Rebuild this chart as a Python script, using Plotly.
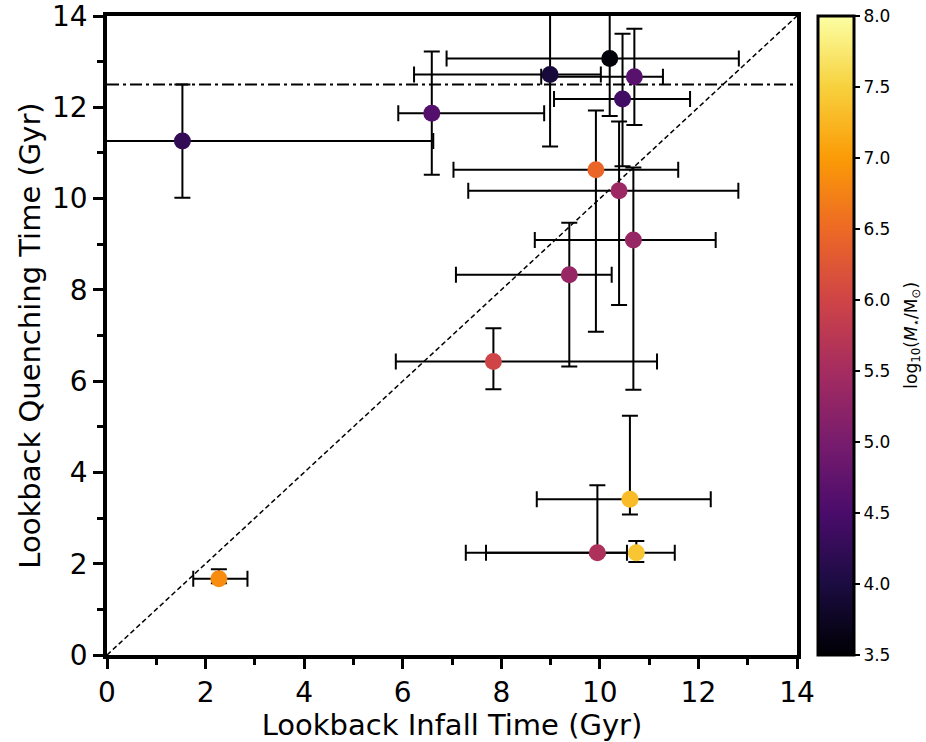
import plotly.graph_objects as go

# infall / quenching lookback times (Gyr)
infall = [1.53, 6.59, 8.99, 10.20, 10.70, 10.46, 10.39, 10.68, 9.92, 9.38, 7.84, 10.61, 9.95, 10.74, 2.27]
quench = [11.26, 11.87, 12.72, 13.07, 12.67, 12.18, 10.17, 9.09, 10.63, 8.33, 6.43, 3.41, 2.24, 2.24, 1.67]

# error bar ends
infall_lo = [-0.6, 5.91, 6.23, 6.89, 8.81, 9.07, 7.33, 8.68, 7.03, 7.08, 5.86, 8.72, 7.69, 7.28, 1.75]
infall_hi = [6.62, 8.87, 10.02, 12.82, 11.28, 11.83, 12.81, 12.35, 11.59, 10.24, 11.16, 12.25, 10.55, 11.52, 2.85]
quench_lo = [10.02, 10.52, 11.14, 11.81, 11.61, 10.71, 7.67, 5.81, 7.08, 6.32, 5.82, 3.08, 2.19, 2.04, 1.57]
quench_hi = [12.50, 13.22, 14.60, 14.60, 13.72, 13.61, 11.69, 10.68, 11.93, 9.47, 7.16, 5.24, 3.72, 2.50, 1.88]

# log10 stellar mass (colour)
logmass = [4.25, 4.6, 3.95, 3.55, 4.65, 4.4, 5.4, 5.35, 6.45, 5.35, 6.0, 7.3, 5.6, 7.4, 6.85]

one_to_one = [0, 14]
quench_cut = 12.5

cbar_ticks = [3.5, 4.0, 4.5, 5.0, 5.5, 6.0, 6.5, 7.0, 7.5, 8.0]

FONT = "DejaVu Sans"

xerr_plus = [h - v for h, v in zip(infall_hi, infall)]
xerr_minus = [v - l for l, v in zip(infall_lo, infall)]
yerr_plus = [h - v for h, v in zip(quench_hi, quench)]
yerr_minus = [v - l for l, v in zip(quench_lo, quench)]

fig = go.Figure()

# y = x line
fig.add_trace(go.Scatter(
    x=one_to_one, y=one_to_one, mode="lines",
    line=dict(color="black", width=1.5, dash="5px,3px"),
    showlegend=False, hoverinfo="skip"))

# horizontal dash-dot line
fig.add_trace(go.Scatter(
    x=one_to_one, y=[quench_cut, quench_cut], mode="lines",
    line=dict(color="black", width=2, dash="12px,4px,3px,4px"),
    showlegend=False, hoverinfo="skip"))

fig.add_trace(go.Scatter(
    x=infall, y=quench, mode="markers",
    marker=dict(
        size=17, color=logmass, colorscale="Inferno", cmin=3.5, cmax=8.0,
        line=dict(width=0),
        colorbar=dict(
            x=1.03, xanchor="left", xpad=0, y=0.5, yanchor="middle", ypad=0,
            len=1.0, lenmode="fraction", thickness=36,
            outlinewidth=3, outlinecolor="black",
            tickvals=cbar_ticks, ticktext=["%.1f" % t for t in cbar_ticks],
            ticks="outside", ticklen=5, tickwidth=2, tickcolor="black",
            tickfont=dict(family=FONT, size=17, color="black"),
        )),
    error_x=dict(type="data", symmetric=False, array=xerr_plus, arrayminus=xerr_minus,
                 color="black", thickness=2, width=8),
    error_y=dict(type="data", symmetric=False, array=yerr_plus, arrayminus=yerr_minus,
                 color="black", thickness=2, width=8),
    showlegend=False))

# colourbar label, rotated like matplotlib's
fig.add_annotation(
    text="log<sub>10</sub>(<i>M</i><sub>\u22c6</sub>/M<sub>\u2299</sub>)",
    xref="paper", yref="paper", x=1.167, y=0.5, xanchor="center", yanchor="middle",
    textangle=-90, showarrow=False, font=dict(family=FONT, size=17, color="black"))

axis_style = dict(
    range=[0, 14], dtick=2, tick0=0, automargin=False, ticklabeloverflow="allow",
    showline=True, linewidth=3.5, linecolor="black", mirror=True,
    ticks="outside", ticklen=10, tickwidth=3, tickcolor="black",
    minor=dict(dtick=1, tick0=0, ticks="outside", ticklen=6, tickwidth=3, tickcolor="black"),
    showgrid=False, zeroline=False,
    tickfont=dict(family=FONT, size=28, color="black"),
)

fig.update_layout(
    width=926, height=742,
    margin=dict(l=107, r=129, t=16, b=87, autoexpand=False),
    paper_bgcolor="white", plot_bgcolor="white",
    font=dict(family=FONT, color="black"),
    xaxis=dict(axis_style, title=dict(text="Lookback Infall Time (Gyr)",
                                      font=dict(family=FONT, size=29), standoff=2)),
    yaxis=dict(axis_style, title=dict(text="Lookback Quenching Time (Gyr)",
                                      font=dict(family=FONT, size=29), standoff=4)),
)

fig.write_html("out.html", config={"displayModeBar": False},
               post_script="document.body.style.margin='0px';")
